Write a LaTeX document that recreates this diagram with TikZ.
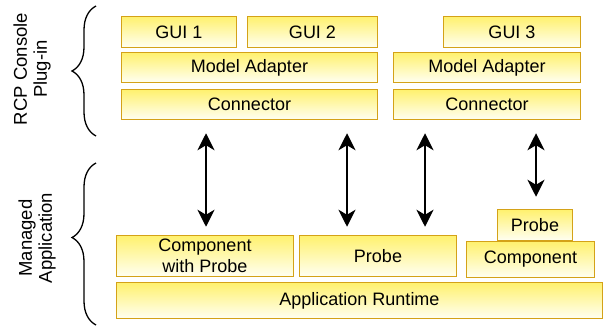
\documentclass[tikz,border=0pt]{standalone}
\usepackage{fontspec}
\setmainfont{Liberation Sans}
\usetikzlibrary{arrows.meta,decorations.pathreplacing}
\definecolor{boxedge}{RGB}{212,162,24}
\definecolor{boxtop}{RGB}{255,241,110}
\definecolor{boxbottom}{RGB}{255,255,242}
\begin{document}
\begin{tikzpicture}[x=1pt,y=-1pt]
	\useasboundingbox (0,0) rectangle (605,329);
	\begin{scope}[every node/.style={rectangle,draw=boxedge,line width=1.5pt,top color=boxtop,bottom color=boxbottom,inner sep=0pt,align=center,font=\fontsize{18}{21}\selectfont}]
		\node[minimum width=115pt,minimum height=31pt] (gui1) at (179,32) {GUI 1};
		\node[minimum width=130pt,minimum height=31pt] (gui2) at (312.5,32) {GUI 2};
		\node[minimum width=137pt,minimum height=31pt] (gui3) at (512,32) {GUI 3};
		\node[minimum width=256pt,minimum height=30pt] (ma1) at (249.5,67.5) {Model Adapter};
		\node[minimum width=187pt,minimum height=30pt] (ma2) at (487,67.5) {Model Adapter};
		\node[minimum width=256pt,minimum height=30pt] (con1) at (249.5,104.5) {Connector};
		\node[minimum width=187pt,minimum height=30pt] (con2) at (487,104.5) {Connector};
		\node[minimum width=177pt,minimum height=41pt] (cwp) at (205,256) {Component\\with Probe};
		\node[minimum width=157pt,minimum height=41pt] (probe1) at (378,256) {Probe};
		\node[minimum width=128pt,minimum height=36pt] (comp) at (530.5,259.5) {Component};
		\node[minimum width=75pt,minimum height=31pt] (probe2) at (535,225) {Probe};
		\node[minimum width=486pt,minimum height=36pt] (runtime) at (359.5,300.5) {Application Runtime};
	\end{scope}

	\begin{scope}[every node/.style={rotate=90,align=center,font=\fontsize{18.5}{20}\selectfont}]
		\node (rcp) at (32,69) {RCP Console\\Plug-in};
		\node (managed) at (37,238) {Managed\\Application};
	\end{scope}
	\draw[decorate,decoration={brace,amplitude=24pt},line width=1.3pt] (96,136) -- (96,6);
	\draw[decorate,decoration={brace,amplitude=24pt,aspect=0.54},line width=1.3pt] (96,325) -- (96,163);

	\coordinate (a1) at (206,0);
	\coordinate (a2) at (347,0);
	\coordinate (a3) at (425,0);
	\coordinate (a4) at (536,0);
	\begin{scope}[>={Stealth[length=17pt,width=17pt,inset=5pt]},every edge/.style={draw=black,line width=1.8pt,shorten <=13pt,shorten >=8pt}]
		\path [<->] (con1.south -| a1) edge (cwp.north -| a1);
		\path [<->] (con1.south -| a2) edge (probe1.north -| a2);
		\path [<->] (con2.south -| a3) edge (probe1.north -| a3);
		\path [<->] (con2.south -| a4) edge [shorten >=12pt] (probe2.north -| a4);
	\end{scope}
\end{tikzpicture}
\end{document}
